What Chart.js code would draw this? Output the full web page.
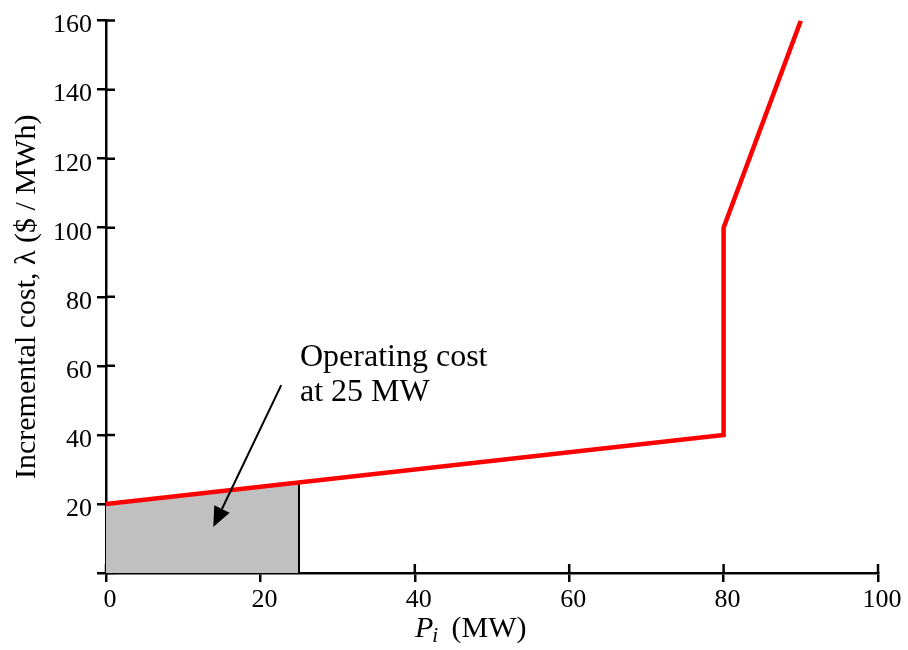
<!DOCTYPE html>
<html>
<head>
<meta charset="utf-8">
<script src="https://cdn.jsdelivr.net/npm/chart.js@4/dist/chart.umd.min.js"></script>
<style>
  html, body { margin: 0; padding: 0; background: #fff; }
  canvas { display: block; }
</style>
</head>
<body>
<canvas id="c" width="908" height="650"></canvas>
<script>
// Incremental cost curve of the unit: linear up to 80 MW, jump, then steep rise
const outputMW = [0, 80, 80, 90];
const incrementalCost = [20, 40, 100, 160];

// Area under the curve up to the operating point (operating cost)
const shadedMW = [0, 25];
const shadedCost = [20, 26.25];

// Annotation text and arrow (arrow ends given in MW and $/MWh)
const noteLines = ['Operating cost', 'at 25 MW'];
const arrowTail = [22.7, 54.4];
const arrowHead = [13.9, 13.3];

// Axis ticks
const xTicks = [0, 20, 40, 60, 80, 100];
const yTicks = [0, 20, 40, 60, 80, 100, 120, 140, 160];

const SERIF = "'Liberation Serif', 'Times New Roman', serif";

const toPoints = (xs, ys) => xs.map((v, i) => ({ x: v, y: ys[i] }));

const decor = {
  id: 'decor',
  beforeDatasetsDraw(chart) {
    // inner halves of the tick marks (ticks straddle the axes)
    const { ctx, chartArea: a, scales: { x, y } } = chart;
    ctx.save();
    ctx.strokeStyle = '#000';
    ctx.lineWidth = 2.5;
    ctx.beginPath();
    xTicks.forEach(v => {
      const px = x.getPixelForValue(v);
      ctx.moveTo(px, a.bottom);
      ctx.lineTo(px, a.bottom - 9);
    });
    yTicks.forEach(v => {
      const py = y.getPixelForValue(v);
      ctx.moveTo(a.left, py);
      ctx.lineTo(a.left + 9, py);
    });
    ctx.stroke();
    ctx.restore();
  },
  afterDatasetsDraw(chart) {
    const { ctx, scales: { x, y } } = chart;
    ctx.save();

    // arrow pointing into the shaded area
    const x0 = x.getPixelForValue(arrowTail[0]), y0 = y.getPixelForValue(arrowTail[1]);
    const x1 = x.getPixelForValue(arrowHead[0]), y1 = y.getPixelForValue(arrowHead[1]);
    const len = Math.hypot(x1 - x0, y1 - y0);
    const ux = (x1 - x0) / len, uy = (y1 - y0) / len;
    const headLen = 20, halfW = 8.5;
    const bx = x1 - ux * headLen, by = y1 - uy * headLen;
    ctx.strokeStyle = '#000';
    ctx.fillStyle = '#000';
    ctx.lineWidth = 2;
    ctx.beginPath();
    ctx.moveTo(x0, y0);
    ctx.lineTo(bx, by);
    ctx.stroke();
    ctx.beginPath();
    ctx.moveTo(x1, y1);
    ctx.lineTo(bx - uy * halfW, by + ux * halfW);
    ctx.lineTo(bx + uy * halfW, by - ux * halfW);
    ctx.closePath();
    ctx.fill();

    // annotation text
    ctx.font = `32px ${SERIF}`;
    ctx.textBaseline = 'alphabetic';
    ctx.textAlign = 'left';
    ctx.fillText(noteLines[0], 300, 366);
    ctx.fillText(noteLines[1], 300, 401);

    // x-axis title: italic P with subscript i
    const tx = 415, ty = 637;
    ctx.font = `italic 30px ${SERIF}`;
    ctx.fillText('P', tx, ty);
    const pw = ctx.measureText('P').width;
    ctx.font = `italic 21px ${SERIF}`;
    ctx.fillText('i', tx + pw - 1, ty + 5);
    ctx.font = `30px ${SERIF}`;
    ctx.fillText('(MW)', 451.5, ty);

    ctx.restore();
  }
};

new Chart(document.getElementById('c'), {
  type: 'line',
  data: {
    datasets: [
      {
        label: 'Incremental cost',
        data: toPoints(outputMW, incrementalCost),
        borderColor: '#ff0000',
        borderWidth: 4.5,
        pointRadius: 0,
        fill: false,
        tension: 0,
        borderJoinStyle: 'miter'
      },
      {
        label: 'Operating point edge',
        data: toPoints([shadedMW[1], shadedMW[1]], [0, shadedCost[1]]),
        borderColor: '#000',
        borderWidth: 2,
        pointRadius: 0,
        fill: false
      },
      {
        label: 'Operating cost',
        data: toPoints(shadedMW, shadedCost),
        borderWidth: 0,
        borderColor: 'rgba(0,0,0,0)',
        backgroundColor: '#c0c0c0',
        pointRadius: 0,
        fill: 'origin'
      }
    ]
  },
  options: {
    responsive: false,
    devicePixelRatio: 1,
    animation: false,
    layout: { padding: { top: 15, right: 30, left: 0, bottom: 0 } },
    plugins: {
      legend: { display: false },
      tooltip: { enabled: false }
    },
    scales: {
      x: {
        type: 'linear',
        min: 0,
        max: 100,
        afterBuildTicks: s => { s.ticks = xTicks.map(v => ({ value: v })); },
        afterFit: s => { s.height = 77; },
        border: { display: true, color: '#000', width: 2.5 },
        grid: { display: true, drawOnChartArea: false, drawTicks: true, tickLength: 9, color: '#000', lineWidth: 2.5 },
        ticks: {
          color: '#000',
          font: { family: SERIF, size: 26 },
          padding: 3,
          labelOffset: 4,
          maxRotation: 0,
          callback: v => String(v)
        }
      },
      y: {
        type: 'linear',
        min: 0,
        max: 160,
        afterBuildTicks: s => { s.ticks = yTicks.map(v => ({ value: v })); },
        afterFit: s => { s.width = 106; },
        border: { display: true, color: '#000', width: 2.5 },
        grid: { display: true, drawOnChartArea: false, drawTicks: true, tickLength: 9, color: '#000', lineWidth: 2.5 },
        title: {
          display: true,
          text: 'Incremental cost, λ ($ / MWh)',
          color: '#000',
          font: { family: SERIF, size: 30 },
          padding: { top: 9, bottom: 0 }
        },
        ticks: {
          color: '#000',
          font: { family: SERIF, size: 26 },
          padding: 5,
          labelOffset: 5,
          callback: v => (v === 0 ? '' : String(v))
        }
      }
    }
  },
  plugins: [decor]
});
</script>
</body>
</html>
